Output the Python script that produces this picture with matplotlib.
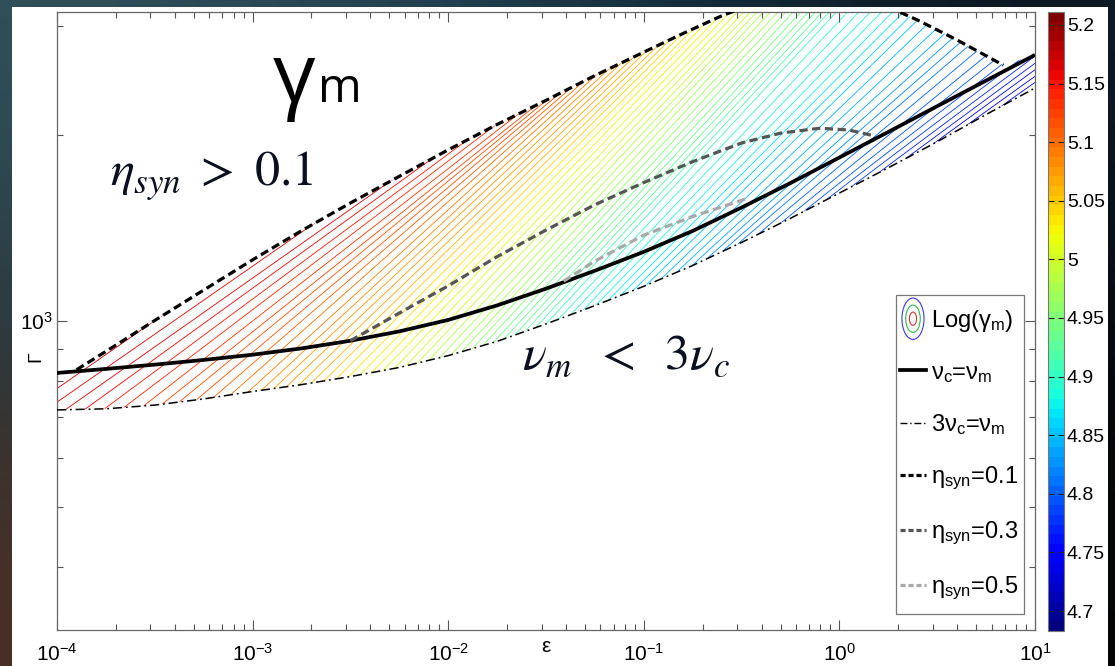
import numpy as np
import matplotlib
matplotlib.use("Agg")
import matplotlib.pyplot as plt
import matplotlib.ticker as mticker
from matplotlib.patches import Rectangle, Ellipse, Polygon, Patch
from matplotlib.lines import Line2D
from matplotlib.legend_handler import HandlerBase
from matplotlib.colors import Normalize
from matplotlib.cm import ScalarMappable

plt.rcParams['font.family'] = ['Liberation Sans', 'DejaVu Sans']
plt.rcParams['mathtext.fontset'] = 'custom'
plt.rcParams['mathtext.rm'] = 'Liberation Sans'
plt.rcParams['mathtext.it'] = 'Liberation Sans:italic'
plt.rcParams['mathtext.default'] = 'regular'
plt.rcParams['axes.unicode_minus'] = False

# ---------------- data ----------------
eps_grid = [1e-4, 1.78e-4, 3.16e-4, 5.62e-4, 1e-3, 1.78e-3, 3.16e-3, 5.62e-3, 1e-2, 1.78e-2,
            3.16e-2, 5.62e-2, 0.1, 0.178, 0.316, 0.562, 1.0, 1.78, 3.16, 5.62, 10]
# nu_c = nu_m  (solid)
gamma_nu_eq = [824, 836.5, 850, 865, 882, 903, 929, 962, 1004, 1060,
               1128, 1206, 1294, 1399, 1526, 1672, 1839, 2023, 2226, 2449, 2695]
# 3 nu_c = nu_m  (dash-dot)
gamma_nu_3 = [718, 721, 731, 748, 769, 789, 813, 841, 879, 927,
              989, 1059, 1138, 1230, 1340, 1466, 1611, 1770, 1950, 2158, 2382]
# eta_syn = 0.1
eps_eta01 = [1.26e-4, 2.0e-4, 3.16e-4, 5.62e-4, 1e-3, 1.78e-3, 3.16e-3, 5.62e-3, 1e-2, 1.78e-2,
             3.16e-2, 5.62e-2, 0.1, 0.158, 0.251, 0.398, 0.631, 1.0, 1.585, 2.51, 3.98, 6.89]
gamma_eta01 = [834, 914, 1002, 1122, 1256, 1400, 1552, 1714, 1892, 2080,
               2275, 2495, 2723, 2917, 3119, 3296, 3404, 3404, 3273, 3069, 2851, 2594]
# eta_syn = 0.3
eps_eta03 = [3.16e-3, 5.62e-3, 1e-2, 1.78e-2, 3.16e-2, 5.62e-2, 0.1, 0.178, 0.316, 0.501, 0.794, 1.12, 1.49]
gamma_eta03 = [929, 1030, 1140, 1271, 1403, 1542, 1675, 1811, 1941, 2014, 2051, 2037, 1995]
# eta_syn = 0.5
eps_eta05 = [0.0389, 0.0562, 0.1, 0.178, 0.282, 0.336]
gamma_eta05 = [1160, 1250, 1377, 1476, 1549, 1578]

# Log(gamma_m) read along the 3nu_c=nu_m boundary, and the slope (dlogG/dlogeps) of its contours
eps_knots = [3.16e-5, 1e-4, 3.16e-4, 1e-3, 3.16e-3, 1e-2, 3.16e-2, 0.1, 0.316, 1, 3.16, 10, 31.6]
loggm_lower = [5.20, 5.165, 5.13, 5.09, 5.035, 4.975, 4.91, 4.855, 4.81, 4.78, 4.755, 4.735, 4.72]
contour_slope = [0.22, 0.22, 0.25, 0.29, 0.32, 0.34, 0.34, 0.31, 0.27, 0.24, 0.23, 0.22, 0.22]
contour_step = 0.007

cbar_range = (4.683, 5.211)
cbar_ticks = [4.7, 4.75, 4.8, 4.85, 4.9, 4.95, 5.0, 5.05, 5.1, 5.15, 5.2]
cbar_labels = ['4.7', '4.75', '4.8', '4.85', '4.9', '4.95', '5', '5.05', '5.1', '5.15', '5.2']
legend_labels = [r'Log($\gamma_m$)', r'$\nu_c$=$\nu_m$', r'3$\nu_c$=$\nu_m$',
                 r'$\eta_{syn}$=0.1', r'$\eta_{syn}$=0.3', r'$\eta_{syn}$=0.5']

# ---------------- figure ----------------
W, H = 1115, 666
fig = plt.figure(figsize=(W / 100, H / 100), dpi=100)

bg = fig.add_axes([0, 0, 1, 1], zorder=-10)
bg.set_axis_off()
grad = np.array([[[49, 80, 90], [26, 58, 74], [12, 24, 34]],
                 [[40, 56, 60], [22, 38, 46], [5, 7, 10]],
                 [[76, 48, 38], [26, 22, 20], [3, 4, 5]]]) / 255.0
bg.imshow(grad, extent=(0, 1, 0, 1), aspect='auto', interpolation='bicubic')
fig.add_artist(Rectangle((12 / W, 0), (1108 - 12) / W, 1 - 7 / H, transform=fig.transFigure,
                         facecolor='white', edgecolor='none', zorder=-5))

ax = fig.add_axes([57 / W, 1 - 630 / H, 978 / W, 618 / H])
ax.set_facecolor('white')
ax.set_xscale('log')
ax.set_yscale('log')
ax.set_xlim(1e-4, 10)
ax.set_ylim(10 ** 2.5, 10 ** 3.5)

cmap = plt.get_cmap('jet', 64)
norm = Normalize(*cbar_range)

# contour field of Log(gamma_m)
lx_lo, ly_lo = np.log10(eps_grid), np.log10(gamma_nu_3)
lxk = np.log10(eps_knots)
gx = np.linspace(-4.0, 1.0, 650)
gy = np.linspace(2.5, 3.65, 480)
x0 = np.linspace(-6.0, 1.2, 2600)
y0 = np.interp(x0, lx_lo, ly_lo)
v0 = np.interp(x0, lxk, loggm_lower)
s0 = np.interp(x0, lxk, contour_slope)
F = np.empty((gy.size, gx.size))
for j, xv in enumerate(gx):
    m = x0 <= xv
    yi = (y0[m] + s0[m] * (xv - x0[m]))[::-1]
    vi = v0[m][::-1]
    yi = np.maximum.accumulate(yi)
    F[:, j] = np.interp(gy, yi, vi)

levels = np.arange(4.700, 5.2001, contour_step)
cs = ax.contour(10 ** gx, 10 ** gy, F, levels=levels, cmap=cmap, norm=norm,
                linewidths=0.6, zorder=1)

# clip region: between 3nu_c=nu_m and eta=0.1 (then nu_c=nu_m)
e_hi_right = [e for e in eps_grid if e > eps_eta01[-1]]
g_hi_right = [g for e, g in zip(eps_grid, gamma_nu_eq) if e > eps_eta01[-1]]
e_hi_left = [e for e in eps_grid if e < eps_eta01[0]]
g_hi_left = [g for e, g in zip(eps_grid, gamma_nu_eq) if e < eps_eta01[0]]
px = list(eps_grid) + e_hi_right[::-1] + eps_eta01[::-1] + e_hi_left[::-1]
py = list(gamma_nu_3) + g_hi_right[::-1] + gamma_eta01[::-1] + g_hi_left[::-1]
clip = Polygon(np.column_stack([px, py]), closed=True, transform=ax.transData,
               fill=False, edgecolor='none')
ax.add_patch(clip)
cs.set_clip_path(clip)

# curves
dash = (0, (2.6, 1.4))
ax.plot(eps_grid, gamma_nu_eq, color='black', lw=2.7, zorder=4, solid_capstyle='butt')
ax.plot(eps_grid, gamma_nu_3, color='black', lw=1.1, ls=(0, (6, 2.5, 1.2, 2.5)), zorder=4)
ax.plot(eps_eta01, gamma_eta01, color='black', lw=2.3, ls=dash, zorder=5)
ax.plot(eps_eta03, gamma_eta03, color='#555555', lw=2.3, ls=dash, zorder=5)
ax.plot(eps_eta05, gamma_eta05, color='#a8a8a8', lw=2.3, ls=dash, zorder=5)

# axes styling
for sp in ax.spines.values():
    sp.set_color('#666666')
    sp.set_linewidth(0.9)
ax.xaxis.set_major_locator(mticker.LogLocator(base=10, numticks=20))
ax.xaxis.set_minor_locator(mticker.LogLocator(base=10, subs=np.arange(2, 10), numticks=20))
ax.yaxis.set_major_locator(mticker.LogLocator(base=10, numticks=20))
ax.yaxis.set_minor_locator(mticker.LogLocator(base=10, subs=np.arange(2, 10), numticks=20))
ax.xaxis.set_minor_formatter(mticker.NullFormatter())
ax.yaxis.set_minor_formatter(mticker.NullFormatter())
ax.tick_params(which='both', direction='in', top=True, right=True, color='#555555')
ax.tick_params(which='major', length=7, width=0.8, labelsize=15)
ax.tick_params(which='minor', length=4, width=0.8)
ax.tick_params(axis='x', pad=9)
ax.tick_params(axis='y', pad=3)

ax.set_xlabel('ε', fontsize=15)
ax.xaxis.set_label_coords(0.5, -16 / 618)
ax.xaxis.label.set_va('center')
ax.set_ylabel('Γ', fontsize=14)
ax.yaxis.set_label_coords(-21 / 978, (630 - 357) / 618)
ax.yaxis.label.set_va('center')

# colorbar
cax = fig.add_axes([1048 / W, 1 - 631 / H, 16 / W, 619 / H])
cb = fig.colorbar(ScalarMappable(norm=norm, cmap=cmap), cax=cax)
cb.set_ticks(cbar_ticks)
cb.set_ticklabels(cbar_labels)
cb.outline.set_edgecolor('#777777')
cb.outline.set_linewidth(0.8)
cax.tick_params(direction='in', length=4, width=0.8, left=True, right=True,
                color='#222222', labelsize=14, pad=2)
cax.minorticks_off()

# texts
fig.text(273 / W, 1 - 102 / H, 'γ', fontsize=60, family=['Open Sans', 'DejaVu Sans'],
         va='baseline', ha='left', color='black')
fig.text(318 / W, 1 - 102 / H, 'm', fontsize=34, family=['Open Sans', 'DejaVu Sans'],
         va='baseline', ha='left', color='black')
fig.text(110 / W, 1 - 186 / H,
         r'$\mathit{\eta}_{\mathit{syn}}\ \mathrm{>}\ \mathrm{0.1}$', fontsize=36,
         math_fontfamily='stix', color='#0b1020', va='baseline', ha='left')
fig.text(522 / W, 1 - 369 / H,
         r'$\mathit{\nu}_{\mathit{m}}\;\ \mathrm{<}\;\ \mathrm{3}\mathit{\nu}_{\mathit{c}}$', fontsize=36,
         math_fontfamily='stix', color='#0b1020', va='baseline', ha='left')


# legend
class ContourIconHandler(HandlerBase):
    def create_artists(self, legend, orig_handle, xdescent, ydescent, width, height, fontsize, trans):
        cx = -xdescent + width / 2
        cy = -ydescent + height / 2
        arts = []
        for sc, col in [(1.0, '#3b3bd6'), (0.66, '#38b84a'), (0.32, '#c83a32')]:
            arts.append(Ellipse((cx, cy), width * 0.85 * sc, height * 2.5 * sc, fill=False,
                                edgecolor=col, lw=0.8, transform=trans))
        return arts


icon = Patch()
handles = [icon,
           Line2D([], [], color='black', lw=2.7),
           Line2D([], [], color='black', lw=1.0, ls=(0, (5, 2, 1, 2))),
           Line2D([], [], color='black', lw=2.3, ls=(0, (1.6, 0.9))),
           Line2D([], [], color='#555555', lw=2.3, ls=(0, (1.6, 0.9))),
           Line2D([], [], color='#a8a8a8', lw=2.3, ls=(0, (1.6, 0.9)))]
frame = Rectangle((896 / W, 1 - 614 / H), 128 / W, 319 / H, transform=fig.transFigure,
                  facecolor='white', edgecolor='#777777', lw=0.9, zorder=8, clip_on=False)
ax.add_patch(frame)
leg = ax.legend(handles, legend_labels, handler_map={Patch: ContourIconHandler()},
                loc='upper left', bbox_to_anchor=(900 / W, 1 - 308 / H),
                bbox_transform=fig.transFigure, borderaxespad=0, borderpad=0,
                frameon=False, fontsize=17, handlelength=1.1, handletextpad=0.2,
                labelspacing=1.17)
leg.set_zorder(10)

fig.savefig('out.png', dpi=100, facecolor=fig.get_facecolor())
